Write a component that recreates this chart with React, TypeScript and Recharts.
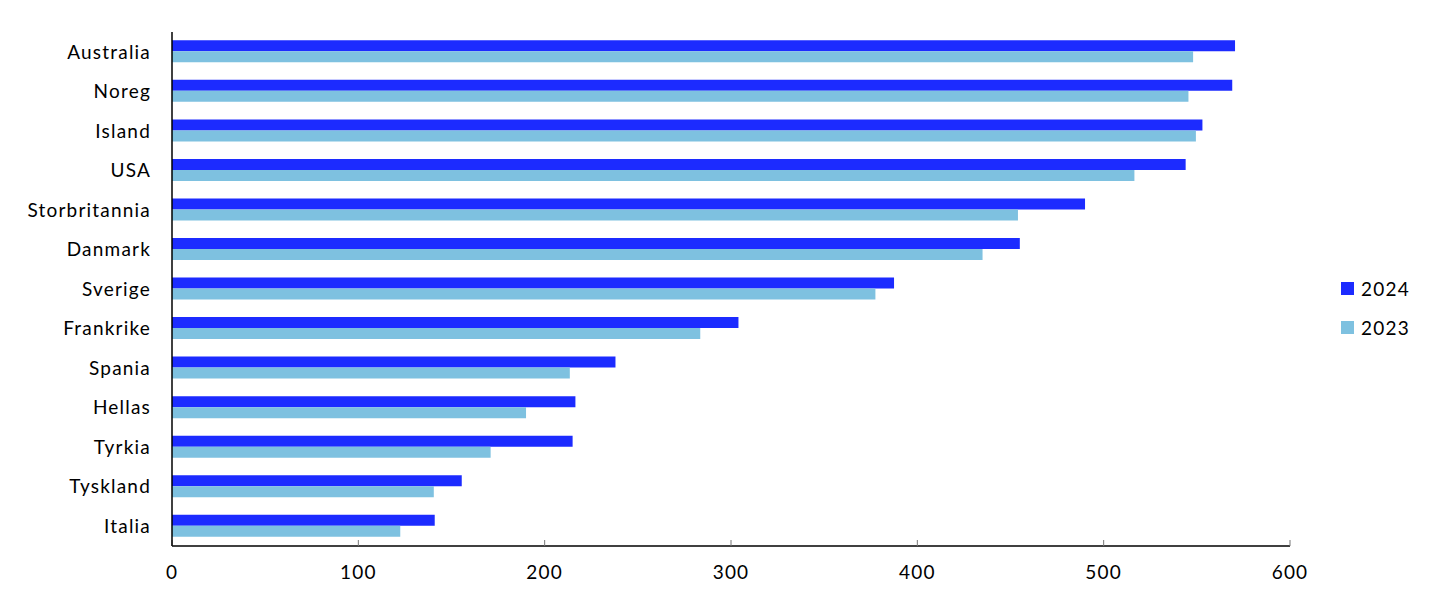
import { BarChart, Bar, XAxis, YAxis } from "recharts"

const countries = [
  "Australia",
  "Noreg",
  "Island",
  "USA",
  "Storbritannia",
  "Danmark",
  "Sverige",
  "Frankrike",
  "Spania",
  "Hellas",
  "Tyrkia",
  "Tyskland",
  "Italia",
]
const values2024 = [570.5, 569, 553, 544, 490, 455, 387.5, 304, 238, 216.5, 215, 155.5, 141]
const values2023 = [548, 545.5, 549.5, 516.5, 454, 435, 377.5, 283.5, 213.5, 190, 171, 140.5, 122.5]
const seriesNames = ["2024", "2023"]
const xTicks = [0, 100, 200, 300, 400, 500, 600]

const COLOR_2024 = "#1C2BFF"
const COLOR_2023 = "#7EC1E0"
const FONT = "Lato, 'Open Sans', sans-serif"

const chartData = countries.map((name, i) => ({
  name,
  y2024: values2024[i],
  y2023: values2023[i],
}))

// legend sits to the right of the plot, drawn as plain html over the chart
function LegendBox() {
  const colors = [COLOR_2024, COLOR_2023]
  return (
    <div
      style={{
        position: "absolute",
        left: 1341,
        top: 269,
        fontFamily: FONT,
        fontSize: 19,
        letterSpacing: 1.2,
        color: "#000",
      }}
    >
      {seriesNames.map((label, i) => (
        <div key={label} style={{ display: "flex", alignItems: "center", height: 39 }}>
          <span
            style={{ width: 13, height: 13, background: colors[i], marginRight: 7, display: "inline-block" }}
          />
          {label}
        </div>
      ))}
    </div>
  )
}

export default function App() {
  const tickStyle = { fontSize: 19, fill: "#000", fontFamily: FONT, letterSpacing: 1.2 }
  return (
    <div style={{ position: "relative", width: 1445, height: 608, background: "#fff" }}>
      <style>{"body{margin:0}"}</style>
      <BarChart
        width={1445}
        height={608}
        data={chartData}
        layout="vertical"
        margin={{ top: 32, right: 155, bottom: 0, left: 0 }}
        barCategoryGap="21%"
        barGap={0}
      >
        <XAxis
          type="number"
          domain={[0, 600]}
          ticks={xTicks}
          interval={0}
          height={62}
          axisLine={{ stroke: "#000", strokeWidth: 1.5 }}
          tickLine={{ stroke: "#777" }}
          tickSize={-6}
          tickMargin={26}
          tick={tickStyle}
        />
        <YAxis
          type="category"
          dataKey="name"
          width={172}
          axisLine={{ stroke: "#000", strokeWidth: 1.5 }}
          tickLine={false}
          tickSize={0}
          tickMargin={21}
          interval={0}
          tick={tickStyle}
        />
        <Bar dataKey="y2024" name={seriesNames[0]} fill={COLOR_2024} isAnimationActive={false} />
        <Bar dataKey="y2023" name={seriesNames[1]} fill={COLOR_2023} isAnimationActive={false} />
      </BarChart>
      <LegendBox />
    </div>
  )
}
